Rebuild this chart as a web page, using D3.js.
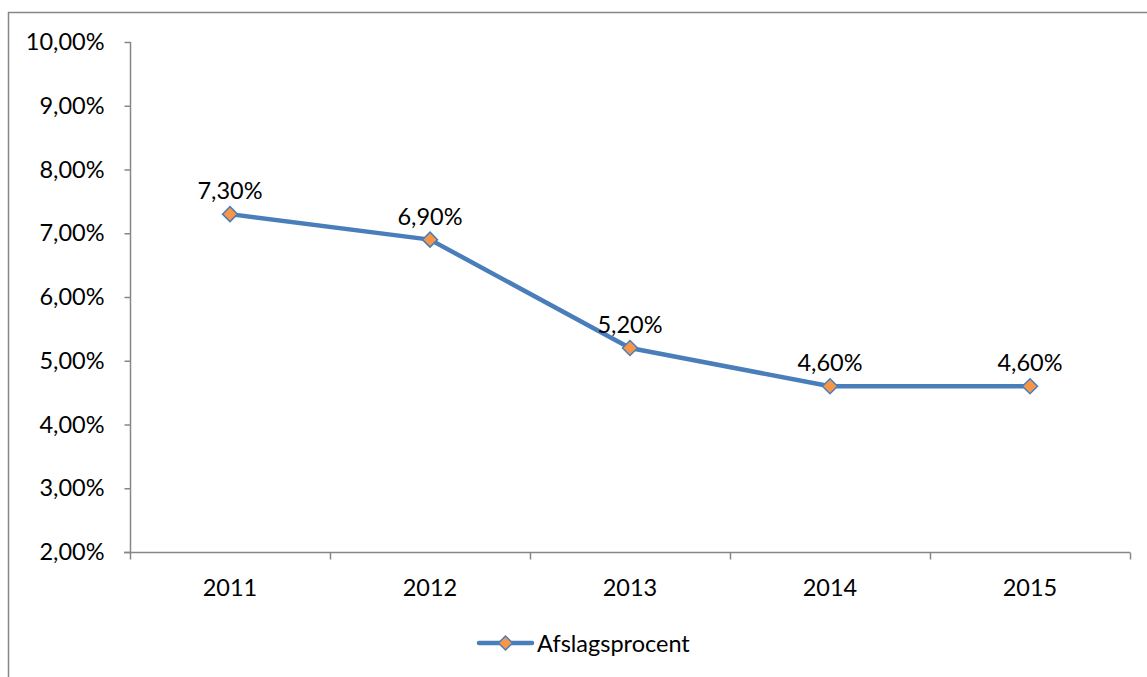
<!DOCTYPE html>
<html><head><meta charset="utf-8">
<script src="https://cdn.jsdelivr.net/npm/d3@7"></script>
<style>body{margin:0;background:#fff;}svg{display:block;font-family:Lato,"Open Sans",sans-serif;}</style>
</head><body>
<svg id="c" width="1147" height="677"></svg>
<script>
const categories = ["2011","2012","2013","2014","2015"];
const values = [7.3, 6.9, 5.2, 4.6, 4.6];
const yTicks = [2,3,4,5,6,7,8,9,10];
const seriesName = "Afslagsprocent";

const FS = 23.5;
const svg = d3.select("#c");
const fmt = v => d3.format(".2f")(v).replace(".", ",") + "%";
const axisColor = "#868686";

// chart border (extends beyond the view on right/bottom)
svg.append("path").attr("d","M8.5,700 L8.5,12.5 L1200,12.5")
  .attr("fill","none").attr("stroke",axisColor).attr("stroke-width",1.5);

const x = d3.scaleBand().domain(categories).range([130,1130]);
const y = d3.scaleLinear().domain([2,10]).range([552,42]);

// y axis
const ya = svg.append("g").attr("transform","translate(130.5,0)")
  .call(d3.axisLeft(y).tickValues(yTicks).tickSize(6).tickPadding(20).tickFormat(fmt));
ya.selectAll("path,line").attr("stroke",axisColor).attr("stroke-width",1.5);
ya.select(".domain").attr("d","M0,42V552");
ya.selectAll("text").attr("font-size",FS).attr("fill","#000").attr("font-family","Lato,sans-serif");

// x axis
const xa = svg.append("g").attr("transform","translate(0,552.5)");
xa.append("line").attr("x1",124).attr("x2",1130).attr("stroke",axisColor).attr("stroke-width",1.5);
const bounds = categories.map(c=>x(c)).concat([x(categories[categories.length-1])+x.bandwidth()]);
xa.selectAll("line.t").data(bounds).join("line").attr("class","t")
  .attr("x1",d=>d+0.5).attr("x2",d=>d+0.5).attr("y1",0).attr("y2",7)
  .attr("stroke",axisColor).attr("stroke-width",1.5);
xa.selectAll("text").data(categories).join("text")
  .attr("x",d=>x(d)+x.bandwidth()/2).attr("y",43)
  .attr("text-anchor","middle").attr("font-size",FS).text(d=>d);

const cx = d => x(d)+x.bandwidth()/2;
const line = d3.line().x((d,i)=>cx(categories[i])).y(d=>y(d));
svg.append("path").datum(values).attr("d",line)
  .attr("fill","none").attr("stroke","#4a7ebb").attr("stroke-width",4.5).attr("stroke-linejoin","round");

const diamond = (px,py,r) => `M${px},${py-r}L${px+r},${py}L${px},${py+r}L${px-r},${py}Z`;
svg.selectAll("path.m").data(values).join("path").attr("class","m")
  .attr("d",(d,i)=>diamond(cx(categories[i]),y(d),7.5))
  .attr("fill","#f79646").attr("stroke","#4a7ebb").attr("stroke-width",1.5);

svg.selectAll("text.lbl").data(values).join("text").attr("class","lbl")
  .attr("x",(d,i)=>cx(categories[i])).attr("y",d=>y(d)-15)
  .attr("text-anchor","middle").attr("font-size",FS).text(d=>fmt(d));

// legend
const lg = svg.append("g");
lg.append("line").attr("x1",479).attr("x2",532).attr("y1",643).attr("y2",643)
  .attr("stroke","#4a7ebb").attr("stroke-width",4.5).attr("stroke-linecap","round");
lg.append("path").attr("d",diamond(505.5,643,7)).attr("fill","#f79646").attr("stroke","#4a7ebb").attr("stroke-width",1.5);
lg.append("text").attr("x",537).attr("y",652).attr("font-size",FS).text(seriesName);
</script>
</body></html>
